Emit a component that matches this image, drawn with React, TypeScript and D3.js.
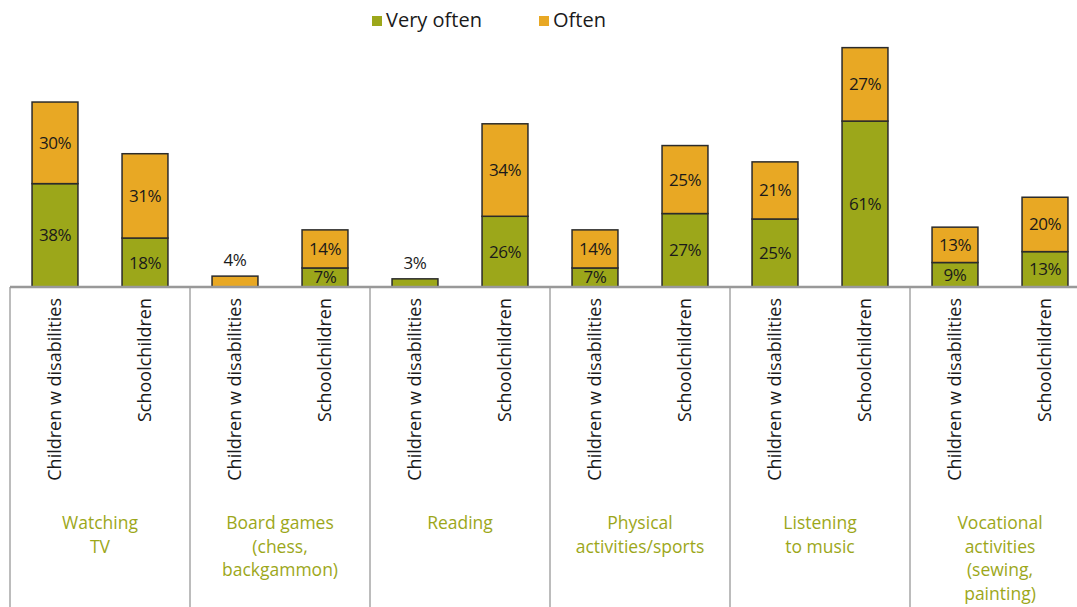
import { useEffect, useRef } from 'react';
import * as d3 from 'd3';

// activity groups (label lines)
const categories = [
  ['Watching', 'TV'],
  ['Board games', '(chess,', 'backgammon)'],
  ['Reading'],
  ['Physical', 'activities/sports'],
  ['Listening', 'to music'],
  ['Vocational', 'activities', '(sewing,', 'painting)'],
];
const populations = ['Children w disabilities', 'Schoolchildren'];

// percentages, two per category (children w disabilities, schoolchildren)
const veryOften = [38, 18, 0, 7, 3, 26, 7, 27, 25, 61, 9, 13];
const often = [30, 31, 4, 14, 0, 34, 14, 25, 21, 27, 13, 20];

const seriesNames = ['Very often', 'Often'];

const GREEN = '#9ca71a';
const ORANGE = '#e8a824';
const FONT = '"Open Sans", sans-serif';

const App = () => {
  const svgRef = useRef<SVGSVGElement>(null);

  useEffect(() => {
    if (!svgRef.current) return;
    const svg = d3.select(svgRef.current);
    svg.selectAll('*').remove();

    const W = 1077;
    const H = 607;
    const baseY = 287;

    const catKeys = categories.map((c, i) => String(i));
    const x0 = d3.scaleBand().domain(catKeys).range([10, 1090]).padding(0);
    const x1 = d3.scaleBand()
      .domain(populations)
      .range([0, x0.bandwidth()])
      .paddingInner(0.49)
      .paddingOuter(0.245);
    const y = d3.scaleLinear().domain([0, 100]).range([baseY, baseY - 272]);

    const rows = catKeys.flatMap((k, ci) =>
      populations.map((p, pi) => {
        const idx = ci * 2 + pi;
        return { cat: k, pop: p, vo: veryOften[idx], of: often[idx] };
      })
    );

    // separators
    svg.append('g')
      .selectAll('line')
      .data(catKeys)
      .join('line')
      .attr('x1', d => x0(d)!)
      .attr('x2', d => x0(d)!)
      .attr('y1', baseY)
      .attr('y2', H)
      .attr('stroke', '#a6a6a6')
      .attr('stroke-width', 1.5);

    const bars = svg.append('g')
      .selectAll('g')
      .data(rows)
      .join('g')
      .attr('transform', d => `translate(${x0(d.cat)! + x1(d.pop)!},0)`);

    const bw = x1.bandwidth();

    // very often segment
    bars.filter(d => d.vo > 0)
      .append('rect')
      .attr('x', 0)
      .attr('y', d => y(d.vo))
      .attr('width', bw)
      .attr('height', d => baseY - y(d.vo))
      .attr('fill', GREEN)
      .attr('stroke', '#2b2b2b')
      .attr('stroke-width', 1.5);

    // often segment
    bars.filter(d => d.of > 0)
      .append('rect')
      .attr('x', 0)
      .attr('y', d => y(d.vo + d.of))
      .attr('width', bw)
      .attr('height', d => y(d.vo) - y(d.vo + d.of))
      .attr('fill', ORANGE)
      .attr('stroke', '#2b2b2b')
      .attr('stroke-width', 1.5);

    const labelStyle = (s: d3.Selection<SVGTextElement, any, any, any>) =>
      s.attr('text-anchor', 'middle')
        .attr('font-family', FONT)
        .attr('font-size', 17)
        .attr('letter-spacing', -0.5)
        .attr('fill', '#1a1a1a');

    // value labels
    bars.each(function (d) {
      const g = d3.select(this);
      const segs = [
        { v: d.vo, lo: 0 },
        { v: d.of, lo: d.vo },
      ].filter(s => s.v > 0);
      segs.forEach(s => {
        const h = y(s.lo) - y(s.lo + s.v);
        const cy = h < 20 && segs.length === 1 ? y(s.lo + s.v) - 10 : (y(s.lo) + y(s.lo + s.v)) / 2 + 6;
        g.append('text')
          .attr('x', bw / 2)
          .attr('y', cy)
          .text(`${s.v}%`)
          .call(labelStyle);
      });
    });

    // axis baseline
    svg.append('line')
      .attr('x1', 10)
      .attr('x2', W)
      .attr('y1', baseY)
      .attr('y2', baseY)
      .attr('stroke', '#999')
      .attr('stroke-width', 2.5);

    // population labels (rotated)
    svg.append('g')
      .selectAll('text')
      .data(rows)
      .join('text')
      .attr('transform', d => `translate(${x0(d.cat)! + x1(d.pop)! + bw / 2 + 6},298) rotate(-90)`)
      .attr('text-anchor', 'end')
      .attr('font-family', FONT)
      .attr('font-size', 18)
      .attr('fill', '#1a1a1a')
      .text(d => d.pop);

    // category labels, one text per line
    const catLines = catKeys.flatMap((k, ci) =>
      categories[ci].map((line, li) => ({ k, line, li }))
    );
    svg.append('g')
      .selectAll('text')
      .data(catLines)
      .join('text')
      .attr('x', d => x0(d.k)! + x0.bandwidth() / 2)
      .attr('y', d => 529 + d.li * 23.5)
      .attr('text-anchor', 'middle')
      .attr('font-family', FONT)
      .attr('font-size', 17.5)
      .attr('fill', GREEN)
      .text(d => d.line);

    // legend
    const legendX = [372, 539];
    const legend = svg.append('g')
      .selectAll('g')
      .data(seriesNames)
      .join('g')
      .attr('transform', (d, i) => `translate(${legendX[i]},15)`);
    legend.append('rect')
      .attr('width', 10)
      .attr('height', 10)
      .attr('y', 1)
      .attr('fill', (d, i) => (i === 0 ? GREEN : ORANGE));
    legend.append('text')
      .attr('x', 14)
      .attr('y', 12)
      .attr('font-family', FONT)
      .attr('font-size', 20)
      .attr('fill', '#1a1a1a')
      .text(d => d);
  }, []);

  return (
    <svg
      ref={svgRef}
      width={1077}
      height={607}
      style={{ position: 'fixed', left: 0, top: 0, background: '#fff' }}
    />
  );
};

export default App;
